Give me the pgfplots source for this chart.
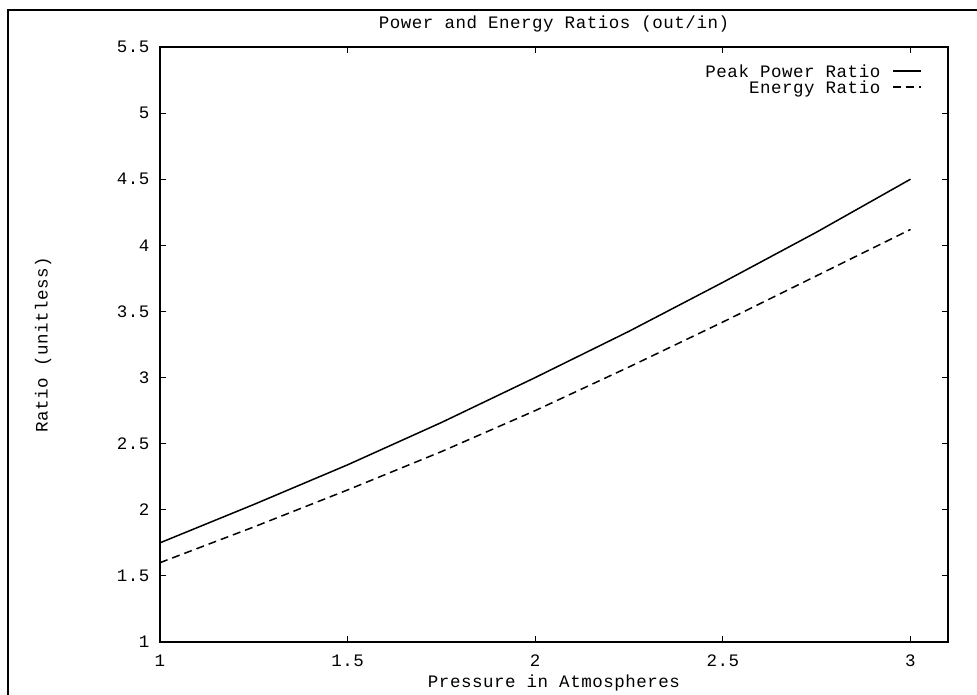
\documentclass[border=0pt]{standalone}
\usepackage{fontspec}
\setmainfont{Liberation Mono}[LetterSpace=3]
\setmonofont{Liberation Mono}[LetterSpace=3]
\usepackage{pgfplots}
\pgfplotsset{compat=1.18}

% Ratios of output to input versus gas pressure
\pgfplotstableread{
p     peak   energy
1.00  1.75   1.60
1.25  2.04   1.87
1.50  2.34   2.15
1.75  2.66   2.44
2.00  3.00   2.75
2.25  3.35   3.08
2.50  3.72   3.42
2.75  4.10   3.77
3.00  4.50   4.12
}\ratios

\begin{document}
\begin{tikzpicture}
\begin{axis}[
  scale only axis,
  width=788pt, height=595pt,
  xmin=1, xmax=3.1, ymin=1, ymax=5.5,
  xtick={1,1.5,2,2.5,3},
  ytick={1,1.5,2,2.5,3,3.5,4,4.5,5,5.5},
  xticklabels={1,1.5,2,2.5,3},
  yticklabels={1,1.5,2,2.5,3,3.5,4,4.5,5,5.5},
  tick align=inside,
  major tick length=6pt,
  axis line style={line width=1.6pt},
  every tick/.style={line width=1.2pt, black},
  font=\fontsize{17.5}{20}\selectfont,
  /pgf/number format/assume math mode=true,
  ticklabel style={font=\fontsize{17.5}{20}\selectfont},
  xticklabel style={yshift=-9pt},
  yticklabel style={xshift=-7pt},
  title={Power and Energy Ratios (out/in)},
  title style={at={(axis description cs:0.5,1.0286)}, anchor=center, inner sep=0pt},
  xlabel={Pressure in Atmospheres},
  xlabel style={at={(axis description cs:0.5,-0.0689)}, anchor=center, inner sep=0pt},
  ylabel={Ratio (unitless)},
  ylabel style={at={(axis description cs:-0.1485,0.5)}, anchor=center, inner sep=0pt},
  legend plot pos=right,
  legend cell align=right,
  legend image code/.code={\draw[#1] (0pt,0pt) -- (28pt,0pt);},
  legend style={
    draw=none, fill=none,
    at={(axis description cs:1,1)}, anchor=north east,
    xshift=-23pt, yshift=-16pt,
    column sep=12pt, row sep=4pt,
    nodes={inner sep=0pt, text height=12pt, text depth=0pt},
  },
]
\addplot[black, line width=1.5pt] table[x=p, y=peak] {\ratios};
\addlegendentry{Peak Power Ratio}
\addplot[black, line width=1.5pt, dash pattern=on 8pt off 5pt] table[x=p, y=energy] {\ratios};
\addlegendentry{Energy Ratio}
\end{axis}
% page frame (left and top edges)
\draw[line width=1.3pt] ([xshift=-152pt,yshift=-53pt]current axis.south west)
  -- ([xshift=-152pt,yshift=632pt]current axis.south west)
  -- ([xshift=817pt,yshift=632pt]current axis.south west);
\pgfresetboundingbox
\path[use as bounding box] ([xshift=-160pt,yshift=-53pt]current axis.south west) rectangle ++(977pt,695pt);
\end{tikzpicture}
\end{document}
